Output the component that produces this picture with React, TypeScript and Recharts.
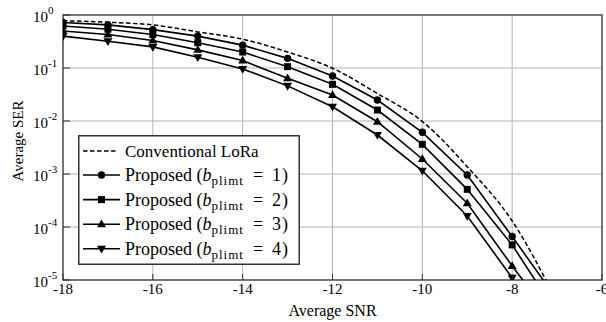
import React from "react";
import { CartesianGrid, Legend, Line, LineChart, ReferenceArea, XAxis, YAxis } from "recharts";

const snr = [-18, -17, -16, -15, -14, -13, -12, -11, -10, -9, -8, -7];
const conventionalSer = [0.78, 0.73, 0.65, 0.48, 0.35, 0.2, 0.099, 0.033, 0.0098, 0.00137, 0.00013, 3.9e-6];
const proposedSer1 = [0.72, 0.65, 0.53, 0.4, 0.27, 0.152, 0.0706, 0.0249, 0.00612, 0.00096, 6.6e-5, 4.3e-6];
const proposedSer2 = [0.62, 0.54, 0.43, 0.3, 0.2, 0.106, 0.0492, 0.0161, 0.00363, 0.000514, 4.6e-5, 2.3e-6];
const proposedSer3 = [0.5, 0.43, 0.33, 0.22, 0.138, 0.064, 0.031, 0.0097, 0.00192, 0.00028, 1.84e-5, 1.4e-6];
const proposedSer4 = [0.4, 0.32, 0.25, 0.16, 0.096, 0.046, 0.0186, 0.00544, 0.00115, 0.000161, 1.1e-5, 5e-7];

const xTicks = [-18, -16, -14, -12, -10, -8, -6];
const yDecades = [1e-5, 1e-4, 1e-3, 1e-2, 1e-1, 1];
const yMinorSteps = [2, 3, 4, 5, 6, 7, 8, 9];
const yMinorTicks = yDecades.slice(0, -1).flatMap((d) => yMinorSteps.map((m) => d * m));

const data = snr.map((x, i) => ({
  snr: x,
  conv: conventionalSer[i],
  p1: proposedSer1[i],
  p2: proposedSer2[i],
  p3: proposedSer3[i],
  p4: proposedSer4[i],
}));

type MarkerKind = "circle" | "square" | "up" | "down";

const series: { key: string; marker: MarkerKind; b: number }[] = [
  { key: "p1", marker: "circle", b: 1 },
  { key: "p2", marker: "square", b: 2 },
  { key: "p3", marker: "up", b: 3 },
  { key: "p4", marker: "down", b: 4 },
];

const FONT = "Liberation Serif, Tinos, Times New Roman, Times, DejaVu Serif, serif";

function Marker({ kind, cx, cy }: { kind: MarkerKind; cx: number; cy: number }) {
  switch (kind) {
    case "circle":
      return <circle cx={cx} cy={cy} r={3.7} fill="#000" />;
    case "square":
      return <rect x={cx - 3.5} y={cy - 3.5} width={7} height={7} fill="#000" />;
    case "up":
      return <path d={`M${cx},${cy - 4.8}L${cx + 4.5},${cy + 3}L${cx - 4.5},${cy + 3}Z`} fill="#000" />;
    default:
      return <path d={`M${cx},${cy + 4.8}L${cx + 4.5},${cy - 3}L${cx - 4.5},${cy - 3}Z`} fill="#000" />;
  }
}

const makeDot = (kind: MarkerKind) => (p: any) => {
  if (p.cx == null || p.cy == null) return <g key={`${kind}-${p.index}`} />;
  return (
    <g key={`${kind}-${p.index}`}>
      <Marker kind={kind} cx={p.cx} cy={p.cy} />
    </g>
  );
};

function XTick({ x, y, payload }: any) {
  return (
    <g>
      <line x1={x} x2={x} y1={y} y2={y - 6} stroke="#333" strokeWidth={1} />
      <text x={x} y={y + 14} textAnchor="middle" fontSize={15} style={{ fontFamily: FONT }} fill="#000">
        {payload.value}
      </text>
    </g>
  );
}

function YTick({ x, y, payload }: any) {
  const exp = Math.round(Math.log10(payload.value));
  return (
    <g>
      <line x1={x} x2={x + 7} y1={y} y2={y} stroke="#333" strokeWidth={1} />
      <text x={x - 30} y={y + 7} fontSize={15} style={{ fontFamily: FONT }} fill="#000">
        <tspan>10</tspan>
        <tspan dy={-8} fontSize={11}>
          {exp}
        </tspan>
      </text>
    </g>
  );
}

function LegendBox() {
  return (
    <svg width={222} height={130} style={{ display: "block", fontFamily: FONT }}>
      <rect x={0.75} y={0.75} width={220.5} height={128.5} fill="#fff" stroke="#333" strokeWidth={1.5} />
      <line x1={5} x2={40} y1={16} y2={16} stroke="#000" strokeWidth={1.5} strokeDasharray="4.5 2.5" />
      <text x={47} y={21.5} fontSize={17} fill="#000">
        Conventional LoRa
      </text>
      {series.map((s, i) => {
        const cy = 40 + i * 24.6;
        return (
          <g key={s.key}>
            <line x1={5} x2={42} y1={cy} y2={cy} stroke="#000" strokeWidth={1.6} />
            <Marker kind={s.marker} cx={23.5} cy={cy} />
            <text x={47} y={cy + 6} fontSize={18} fill="#000">
              Proposed (<tspan fontStyle="italic">b</tspan>
              <tspan fontSize={13} dy={4} letterSpacing={1}>
                plimt
              </tspan>
              <tspan dy={-4} dx={9}>
                =
              </tspan>
              <tspan dx={9}>{s.b}</tspan>
              <tspan dx={1}>)</tspan>
            </text>
          </g>
        );
      })}
    </svg>
  );
}

export default function App() {
  return (
    <div style={{ position: "absolute", left: 0, top: 0, background: "#fff", fontFamily: FONT }}>
      <LineChart
        width={606}
        height={322}
        data={data}
        margin={{ top: 15, right: 4, bottom: 0, left: 0 }}
        style={{ fontFamily: FONT }}
      >
        <CartesianGrid yAxisId="major" stroke="#b3b3b3" strokeWidth={1} />
        <XAxis
          dataKey="snr"
          type="number"
          domain={[-18, -6]}
          allowDataOverflow
          ticks={xTicks}
          interval={0}
          tick={<XTick />}
          tickLine={false}
          axisLine={false}
          tickSize={0}
          tickMargin={0}
          height={42}
          label={{
            value: "Average SNR",
            position: "insideBottom",
            offset: 6,
            style: { fontSize: 16, fontFamily: FONT, fill: "#000" },
          }}
        />
        <YAxis
          yAxisId="major"
          type="number"
          scale="log"
          domain={[1e-5, 1]}
          allowDataOverflow
          ticks={yDecades}
          interval={0}
          tick={<YTick />}
          tickLine={false}
          axisLine={false}
          tickSize={0}
          tickMargin={0}
          width={63}
          label={{
            value: "Average SER",
            position: "center",
            angle: -90,
            dx: -14,
            dy: -6.5,
            style: { fontSize: 15, fontFamily: FONT, fill: "#000" },
          }}
        />
        <YAxis
          yAxisId="minor"
          type="number"
          scale="log"
          domain={[1e-5, 1]}
          allowDataOverflow
          ticks={yMinorTicks}
          interval={0}
          mirror
          width={0}
          tick={false}
          tickSize={4}
          tickLine={{ stroke: "#333" }}
          axisLine={false}
        />
        <ReferenceArea
          yAxisId="major"
          x1={-18}
          x2={-6}
          y1={1e-5}
          y2={1}
          fill="none"
          stroke="#555"
          strokeWidth={1.5}
        />
        <Line
          yAxisId="major"
          type="monotone"
          dataKey="conv"
          stroke="#000"
          strokeWidth={1.5}
          strokeDasharray="4.5 2.5"
          dot={false}
          isAnimationActive={false}
        />
        {series.map((s) => (
          <Line
            key={s.key}
            yAxisId="major"
            type="linear"
            dataKey={s.key}
            stroke="#000"
            strokeWidth={1.6}
            dot={makeDot(s.marker)}
            activeDot={false}
            isAnimationActive={false}
          />
        ))}
        <Legend
          layout="vertical"
          align="center"
          verticalAlign="middle"
          content={() => <LegendBox />}
          wrapperStyle={{ left: 78, top: 135, width: 222, height: 130 }}
        />
      </LineChart>
    </div>
  );
}
